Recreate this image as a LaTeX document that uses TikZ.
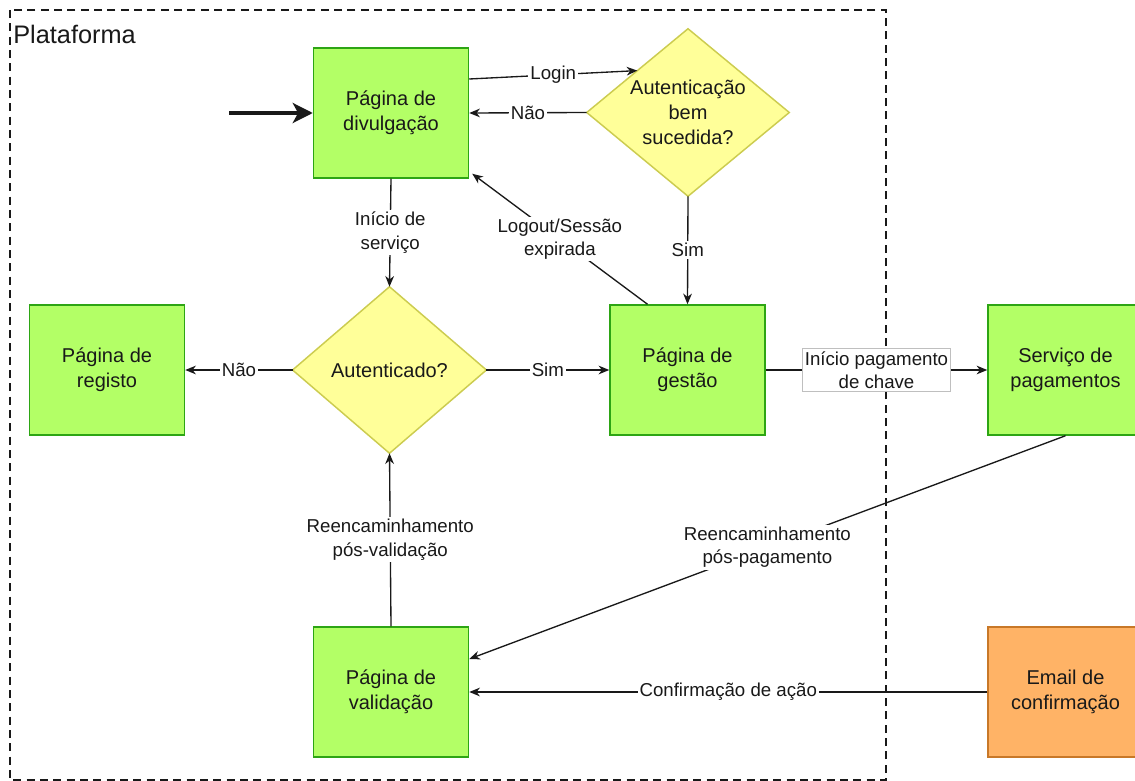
\documentclass[tikz,border=0pt]{standalone}
\usepackage{fontspec}
\setmainfont{Liberation Sans}
\usetikzlibrary{arrows.meta,calc,backgrounds}

\definecolor{pagefill}{RGB}{179,255,102}
\definecolor{pageline}{RGB}{45,165,20}
\definecolor{decfill}{RGB}{255,255,153}
\definecolor{decline}{RGB}{204,204,80}
\definecolor{mailfill}{RGB}{255,179,102}
\definecolor{mailline}{RGB}{200,120,40}
\definecolor{ink}{RGB}{25,25,25}

\begin{document}
\begin{tikzpicture}[x=0.75pt,y=-0.75pt,
  pagebox/.style={draw=pageline, fill=pagefill, line width=1.1pt,
    minimum width=116.25pt, minimum height=97.5pt, inner sep=0pt,
    align=center, text=ink, font=\fontsize{15}{18.75}\selectfont},
  mailbox/.style={pagebox, draw=mailline, fill=mailfill},
  decision/.style={rectangle, draw=none, inner sep=0pt, align=center,
    text=ink, font=\fontsize{15}{18.75}\selectfont},
  decshape/.style={draw=decline, fill=decfill, line width=1.1pt, line join=miter},
  flow/.style={draw=ink, line width=1pt,
    -{Stealth[length=8pt,width=6.5pt,inset=2.5pt]}},
  lbl/.style={fill=white, inner sep=1.5pt, align=center, text=ink,
    font=\fontsize{14}{17.5}\selectfont},
  lblbox/.style={lbl, draw=black!25, line width=0.6pt, inner sep=2pt},
  frame/.style={draw=ink, line width=2pt, dash pattern=on 6pt off 4pt}
]
\useasboundingbox (0,0) rectangle (1135,781);
\clip (0,0) rectangle (1135,781);

% platform boundary
\draw[frame] (10,10) rectangle (886,780);
\node[anchor=west, text=ink, inner sep=0pt, font=\fontsize{19}{22}\selectfont] (plat) at (13,34) {Plataforma};

% pages and services
\node[pagebox] (divulgacao) at (391,113) {Página de\\divulgação};
\node[pagebox] (registo) at (107,370) {Página de\\registo};
\node[pagebox] (gestao) at (687.5,370) {Página de\\gestão};
\node[pagebox] (servico) at (1065.5,370) {Serviço de\\pagamentos};
\node[pagebox] (validacao) at (391,692) {Página de\\validação};
\node[mailbox] (email) at (1065.5,692) {Email de\\confirmação};

% decisions: text node sized to the diamond, diamond drawn behind
\node[decision, minimum width=151.5pt, minimum height=125.25pt] (authok) at (688,112.5) {Autenticação\\bem\\sucedida?};
\node[decision, minimum width=145pt, minimum height=124.5pt] (authq) at (389.5,370) {Autenticado?};
\begin{scope}[on background layer]
  \draw[decshape] (authok.west) -- (authok.north) -- (authok.east) -- (authok.south) -- cycle;
  \draw[decshape] (authq.west) -- (authq.north) -- (authq.east) -- (authq.south) -- cycle;
\end{scope}

% entry point
\coordinate (entry) at (229,113);
\draw[draw=ink, line width=2.6pt, -{Stealth[length=15pt,width=15pt,inset=4pt]}] (entry) -- (divulgacao.west);

% connectors
\draw[flow] ($(divulgacao.east)+(0,-34)$) -- node[lbl]{Login} ($(authok.west)!0.5!(authok.north)$);
\draw[flow] (authok.west) -- node[lbl]{Não} (divulgacao.east);
\draw[flow] (authok.south) -- node[lbl]{Sim} (gestao.north);
\draw[flow] ($(gestao.north)+(-40,0)$) -- node[lbl]{Logout/Sessão\\expirada} ($(divulgacao.south east)+(3,-5)$);
\draw[flow] (divulgacao.south) -- node[lbl]{Início de\\serviço} (authq.north);
\draw[flow] (authq.west) -- node[lbl]{Não} (registo.east);
\draw[flow] (authq.east) -- node[lbl]{Sim} (gestao.west);
\draw[flow] (gestao.east) -- node[lblbox]{Início pagamento\\de chave} (servico.west);
\draw[flow] (servico.south) -- node[lbl]{Reencaminhamento\\pós-pagamento} ($(validacao.east)+(0,-33)$);
\draw[flow] (email.west) -- node[lbl]{Confirmação de ação} (validacao.east);
\draw[flow] (validacao.north) -- node[lbl]{Reencaminhamento\\pós-validação} (authq.south);
\end{tikzpicture}
\end{document}
